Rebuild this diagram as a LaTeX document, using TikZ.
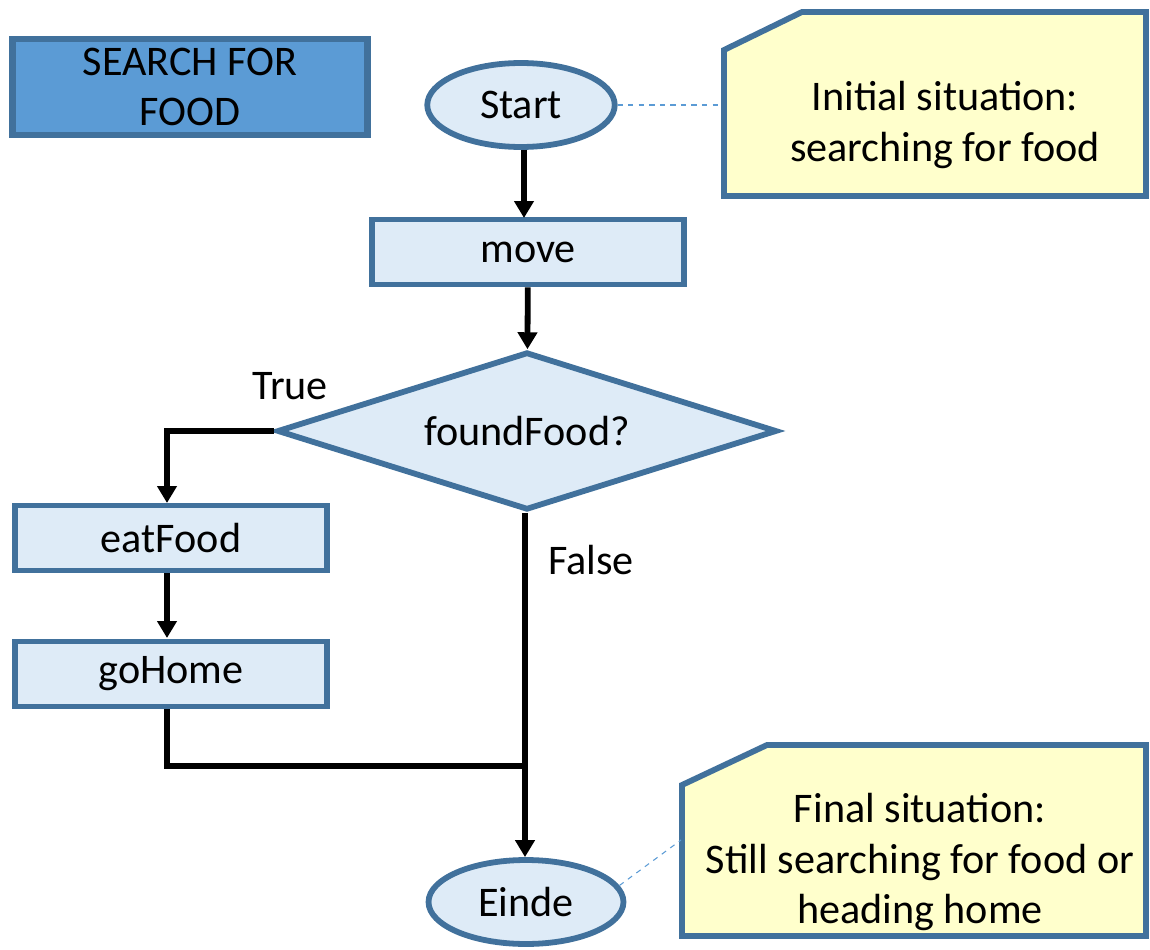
\documentclass[tikz,border=0pt]{standalone}
\usepackage{fontspec}
\setmainfont{Carlito}
\usetikzlibrary{shapes.geometric,arrows.meta}

\definecolor{edgeblue}{HTML}{41719C}
\definecolor{paleblue}{HTML}{DEEBF7}
\definecolor{titleblue}{HTML}{5B9BD5}
\definecolor{noteyellow}{HTML}{FFFFCC}

\tikzset{
	every node/.style={font=\fontsize{24}{28.8}\selectfont, align=center, inner sep=0pt},
	process/.style={rectangle, draw=edgeblue, fill=paleblue, line width=3.3pt, minimum width=6.25cm, minimum height=1.3cm},
	terminal/.style={ellipse, draw=edgeblue, fill=paleblue, line width=3.3pt, minimum width=3.75cm, minimum height=1.68cm},
	decision/.style={diamond, aspect=3.16, draw=edgeblue, fill=paleblue, line width=3.3pt, minimum width=10cm, minimum height=3.16cm},
	note/.style={draw=edgeblue, fill=noteyellow, line width=3.3pt, line join=miter},
	flow/.style={-{Triangle[length=0.34cm,width=0.38cm]}, line width=3.3pt},
	line/.style={line width=3.3pt},
	leader/.style={titleblue, dashed, line width=0.6pt}
}

\begin{document}
\begin{tikzpicture}[x=0.02cm, y=-0.02cm]
		\useasboundingbox (0, 0) rectangle (1150, 950);
		
		% title
		\draw node[rectangle, draw=edgeblue, fill=titleblue, line width=3.5pt, minimum width=7.1cm, minimum height=1.92cm] at (190, 87) (title) {SEARCH FOR\\FOOD};
		
		% flowchart
		\draw node[terminal] at (521, 105) (start) {Start};
		\draw node[process] at (528, 252) (move) {move};
		\draw node[decision] at (527, 431) (found) {foundFood?};
		\draw node[process] at (171, 538) (eat) {eatFood};
		\draw node[process] at (171, 674) (home) {goHome};
		\draw node[terminal, minimum width=3.9cm] at (526, 902) (einde) {Einde};
		\coordinate (join) at (525, 766);
		
		\draw node at (290, 386) (truelbl) {True};
		\draw node at (591, 560) (falselbl) {False};
		
		\draw [flow] (start.south -| 524, 0) -- (524, 218);
		\draw [flow] (move) -- (found);
		\draw [flow, line join=miter] (found.west) -| (167, 503);
		\draw [flow] (eat.south -| 167, 0) -- (167, 638);
		\draw [line, line join=miter] (home.south -| 167, 0) |- (join);
		\draw [flow] (found.south -| 525, 0) -- (einde.north -| 525, 0);
		
		% notes
		\draw [note] (724, 50) -- (802, 12) -- (1146, 12) -- (1146, 196) -- (724, 196) -- cycle;
		\draw node at (945, 125) (note1) {Initial situation:\\searching for food};
		\coordinate (note1in) at (723, 105);
		\draw [leader] (start.east) -- (note1in);
		
		\draw [note] (682, 785) -- (767, 745) -- (1146, 745) -- (1146, 936) -- (682, 936) -- cycle;
		\draw node at (920, 862) (note2) {Final situation:\\Still searching for food or\\heading home};
		\coordinate (note2in) at (681, 840);
		\draw [leader] (einde.10) -- (note2in);
	\end{tikzpicture}
\end{document}
